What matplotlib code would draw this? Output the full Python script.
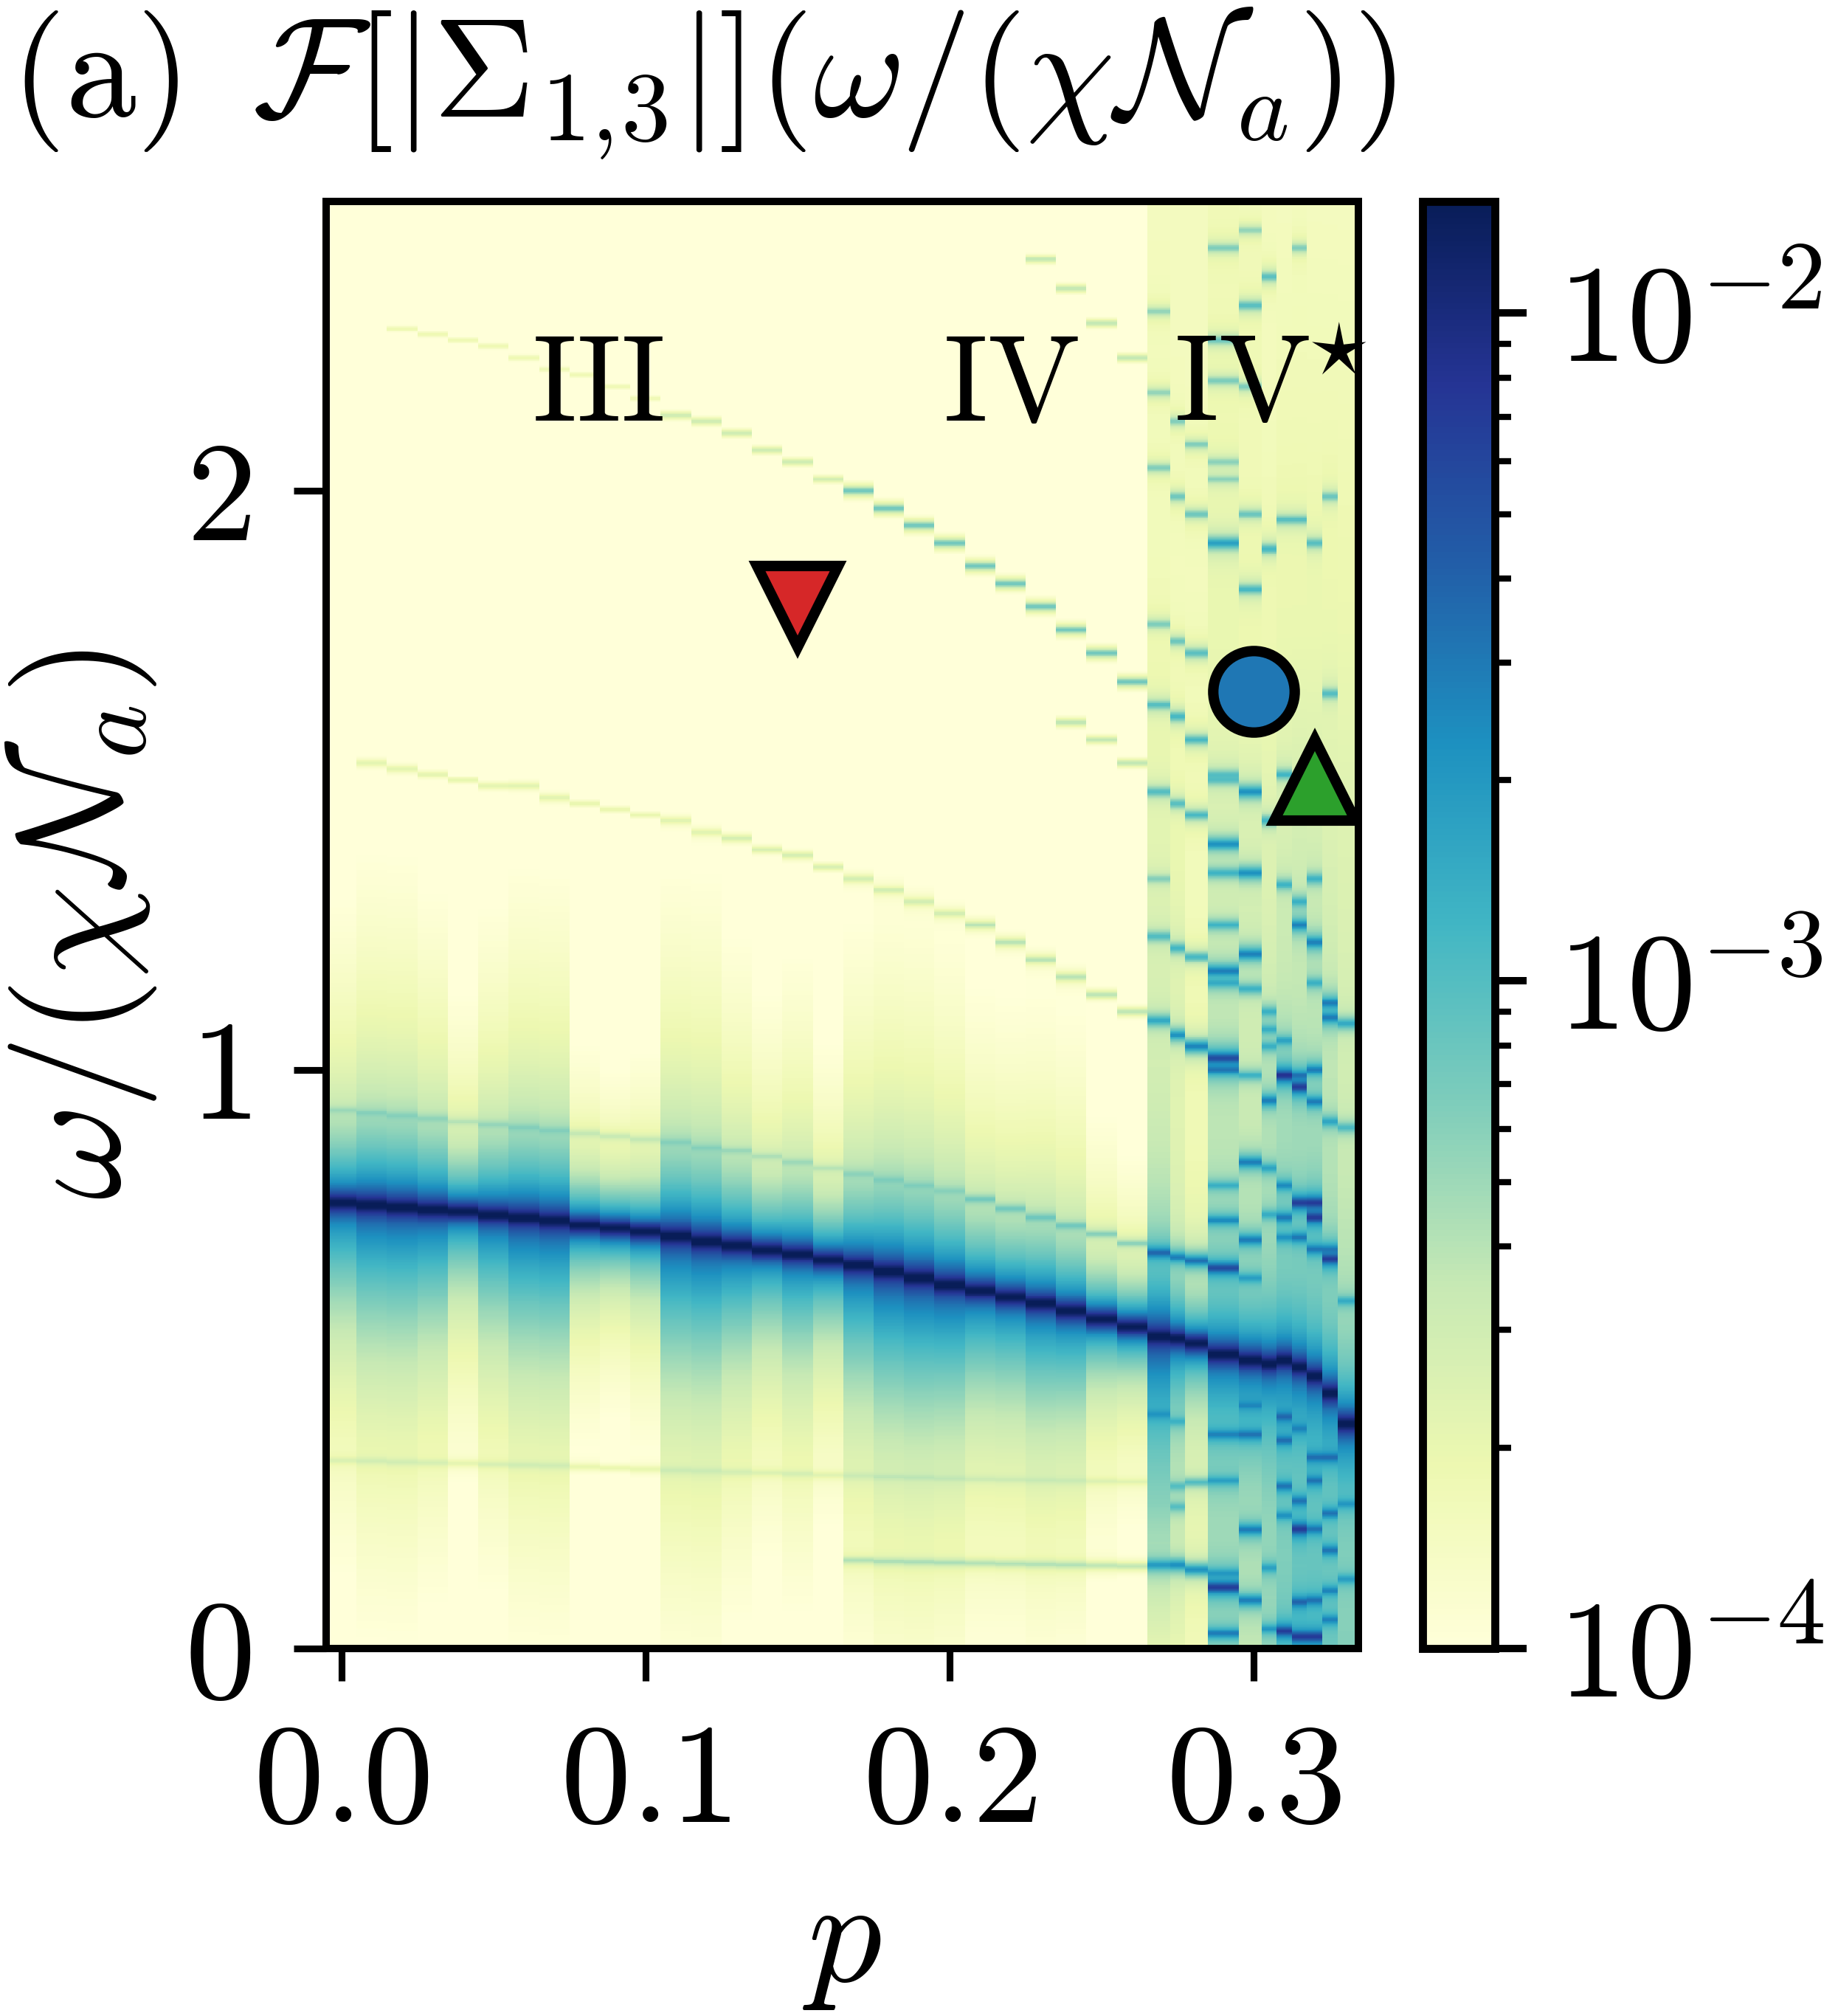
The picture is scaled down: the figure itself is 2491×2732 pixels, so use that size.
import numpy as np
import matplotlib.pyplot as plt
from matplotlib.colors import LogNorm
from matplotlib.ticker import FuncFormatter

plt.rcParams["mathtext.fontset"] = "cm"
plt.rcParams["font.family"] = "serif"
plt.rcParams["font.serif"] = ["cmr10", "DejaVu Serif"]
plt.rcParams["axes.unicode_minus"] = False

# ---- p grid (column edges) ----
p_edges = np.concatenate([np.arange(-0.005, 0.2651, 0.01),
                          [0.2725, 0.2775, 0.285, 0.295, 0.3025, 0.3075,
                           0.3125, 0.3175, 0.3225, 0.3275, 0.3344]])

# main peak position per column (omega / (chi N_a))
peak_omega = [0.770, 0.766, 0.762, 0.758, 0.755, 0.749, 0.744, 0.739, 0.731,
              0.726, 0.720, 0.712, 0.703, 0.696, 0.688, 0.681, 0.671, 0.662,
              0.651, 0.640, 0.628, 0.618, 0.607, 0.596, 0.583, 0.569, 0.556,
              0.539, 0.535, 0.527, 0.508, 0.498, 0.492, 0.498, 0.486, 0.470,
              0.441, 0.388]
# shoulder amplitude around the peak (x1e-3)
shoulder_amp = [1.6, 2.4, 2.4, 2.0, 0.8, 1.7, 2.4, 2.4, 0.5, 0.35, 0.5, 2.4, 2.4,
                1.7, 1.0, 1.4, 0.8, 2.0, 2.7, 2.7, 2.4, 1.5, 1.4, 1.7, 1.4, 0.5,
                0.35, 2.4, 1.0, 0.35, 1.5, 1.5, 1.5, 1.5, 1.5, 1.5, 1.5, 1.5]
# broad tail amplitude (x1e-4), regular columns only
tail_amp = [1.3, 1.6, 1.6, 1.3, 0.7, 1.3, 1.6, 1.6, 0.5, 0.4, 0.5, 1.8, 1.8,
            1.3, 1.0, 1.3, 0.7, 1.6, 1.8, 1.8, 1.6, 1.3, 1.3, 1.3, 1.3, 0.7,
            0.5]

# faint satellite lines in the regular columns: omega per column and log10 level
line_a_omega = [0.93, 0.925, 0.92, 0.915, 0.91, 0.905, 0.90, 0.895, 0.89, 0.885,
                0.88, 0.875, 0.865, 0.86, 0.85, 0.84, 0.83, 0.82, 0.81, 0.80,
                0.79, 0.776, 0.76, 0.745, 0.73, 0.716, 0.70]
line_a_level = [-3.75] * 21 + [-3.4] * 6
line_b_omega = [0.325, 0.324, 0.322, 0.321, 0.32, 0.318, 0.317, 0.316, 0.314,
                0.312, 0.31, 0.308, 0.307, 0.305, 0.304, 0.302, 0.30, 0.299,
                0.297, 0.296, 0.294, 0.293, 0.292, 0.291, 0.29, 0.289, 0.288]
line_b_level = [-3.95] * 27
line_c_omega = [0.152, 0.150, 0.149, 0.148, 0.147, 0.146, 0.145, 0.144, 0.143, 0.142]
line_c_level = [-3.55] * 10
line_d_omega = [2.28, 2.27, 2.26, 2.25, 2.23, 2.21, 2.20, 2.18, 2.16, 2.13, 2.12,
                2.10, 2.07, 2.05, 2.02, 2.00, 1.97, 1.94, 1.91, 1.87, 1.84, 1.80,
                1.76, 1.72, 1.67]
line_d_level = [-3.9] * 9 + [-3.6] * 6 + [-3.15] * 10
line_e_omega = [1.53, 1.52, 1.51, 1.50, 1.49, 1.49, 1.47, 1.46, 1.45, 1.44, 1.43,
                1.41, 1.40, 1.38, 1.37, 1.35, 1.33, 1.31, 1.29, 1.27, 1.25, 1.22,
                1.19, 1.16, 1.13, 1.10]
line_e_level = [-3.85] * 12 + [-3.7] * 8 + [-3.5] * 6
line_f_omega = [2.40, 2.35, 2.29, 2.23]
line_f_level = [-3.5] * 4
line_h_omega = [1.60, 1.57, 1.53]
line_h_level = [-3.5] * 3
lines = [(0, line_a_omega, line_a_level), (0, line_b_omega, line_b_level),
         (17, line_c_omega, line_c_level), (2, line_d_omega, line_d_level),
         (1, line_e_omega, line_e_level), (23, line_f_omega, line_f_level),
         (24, line_h_omega, line_h_level)]

# noisy columns (p > 0.265): background log10 level at omega = 0, 0.25, ..., 2.5
noisy_knots = np.arange(0, 2.51, 0.25)
noisy_bg = [
    [-3.95, -3.45, -3.35, -3.6, -3.7, -3.75, -3.85, -3.95, -4.0, -4.0, -4.0],
    [-3.9, -3.7, -3.75, -3.85, -3.8, -3.8, -3.95, -4.0, -4.0, -4.0, -4.0],
    [-4.0, -3.95, -3.9, -4.0, -4.0, -4.0, -4.0, -4.0, -4.0, -4.0, -4.0],
    [-3.5, -3.55, -3.5, -3.55, -3.6, -3.7, -3.8, -3.85, -3.9, -3.95, -3.95],
    [-3.6, -3.6, -3.55, -3.6, -3.65, -3.7, -3.8, -3.9, -3.95, -3.95, -4.0],
    [-3.4, -3.45, -3.4, -3.5, -3.55, -3.7, -3.8, -3.9, -3.95, -4.0, -4.0],
    [-3.2, -3.4, -3.35, -3.4, -3.5, -3.6, -3.75, -3.85, -3.9, -3.95, -4.0],
    [-3.1, -3.35, -3.3, -3.4, -3.5, -3.6, -3.7, -3.85, -3.9, -3.95, -4.0],
    [-3.1, -3.3, -3.35, -3.4, -3.5, -3.6, -3.7, -3.85, -3.9, -3.95, -4.0],
    [-3.2, -3.4, -3.4, -3.5, -3.55, -3.65, -3.75, -3.85, -3.9, -3.95, -4.0],
    [-3.3, -3.5, -3.5, -3.55, -3.65, -3.7, -3.75, -3.85, -3.9, -3.95, -4.0],
]
# horizontal stripes in the noisy columns: (column index, omega, log10 level)
noisy_stripes = [
    (27, 2.31, -3.4), (27, 2.17, -3.4), (27, 2.04, -3.3), (27, 1.77, -3.3),
    (27, 1.63, -3.1), (27, 1.48, -3.1), (27, 1.33, -3.4), (27, 1.23, -3.1),
    (27, 1.085, -2.9), (27, 0.684, -2.5), (27, 0.404, -3.0), (27, 0.144, -2.8),
    (28, 2.12, -3.3), (28, 1.99, -3.2), (28, 1.74, -3.2), (28, 1.61, -3.0),
    (28, 1.46, -3.1), (28, 1.21, -3.0), (28, 1.06, -2.7), (28, 0.676, -2.6),
    (28, 0.392, -3.1), (28, 0.28, -3.2), (28, 0.245, -3.2), (28, 0.144, -2.7),
    (29, 2.08, -3.3), (29, 1.96, -3.2), (29, 1.72, -3.1), (29, 1.57, -3.0),
    (29, 1.44, -3.0), (29, 1.195, -3.0), (29, 1.04, -2.6), (29, 0.67, -2.5),
    (29, 0.287, -3.1), (29, 0.136, -2.7),
    (30, 2.42, -3.3), (30, 2.26, -3.2), (30, 2.19, -3.3), (30, 2.05, -3.4),
    (30, 2.02, -3.4), (30, 1.91, -2.8), (30, 1.51, -3.2), (30, 1.50, -3.2),
    (30, 1.39, -2.7), (30, 1.34, -3.0), (30, 1.25, -3.0), (30, 1.17, -2.6),
    (30, 1.15, -3.0), (30, 1.02, -2.3), (30, 1.00, -2.6), (30, 0.80, -3.0),
    (30, 0.74, -2.7), (30, 0.657, -2.3), (30, 0.37, -2.7), (30, 0.29, -2.9),
    (30, 0.13, -2.9), (30, 0.106, -2.2), (30, 0.026, -2.6),
    (31, 2.45, -3.4), (31, 2.32, -3.1), (31, 2.18, -3.3), (31, 1.96, -3.2),
    (31, 1.83, -3.0), (31, 1.48, -2.7), (31, 1.34, -2.7), (31, 1.20, -2.6),
    (31, 1.14, -3.0), (31, 0.99, -3.0), (31, 0.84, -2.6), (31, 0.706, -2.6),
    (31, 0.64, -2.9), (31, 0.42, -2.9), (31, 0.37, -2.6), (31, 0.205, -2.6),
    (31, 0.083, -2.6),
    (32, 2.37, -3.1), (32, 1.90, -3.0), (32, 1.43, -3.0), (32, 1.10, -3.0),
    (32, 1.07, -3.0), (32, 1.04, -3.0), (32, 0.947, -2.6), (32, 0.83, -2.9),
    (32, 0.75, -3.0), (32, 0.139, -2.9), (32, 0.034, -2.8),
    (33, 1.95, -3.1), (33, 1.51, -3.0), (33, 1.32, -3.0), (33, 1.05, -2.9),
    (33, 0.99, -2.1), (33, 0.80, -2.7), (33, 0.745, -2.6), (33, 0.71, -2.8),
    (33, 0.40, -2.6), (33, 0.36, -2.6), (33, 0.28, -2.6), (33, 0.23, -2.8),
    (33, 0.03, -2.2),
    (34, 2.42, -3.3), (34, 1.95, -3.1), (34, 1.47, -3.0), (34, 1.29, -3.0),
    (34, 1.25, -2.6), (34, 0.99, -2.6), (34, 0.97, -2.2), (34, 0.77, -2.2),
    (34, 0.71, -2.6), (34, 0.38, -2.8), (34, 0.255, -2.6), (34, 0.206, -2.2),
    (34, 0.08, -2.5), (34, 0.02, -2.2),
    (35, 1.91, -3.1), (35, 1.33, -3.0), (35, 1.22, -2.6), (35, 1.15, -3.0),
    (35, 1.00, -2.6), (35, 0.945, -2.6), (35, 0.77, -2.2), (35, 0.745, -2.2),
    (35, 0.69, -2.6), (35, 0.33, -2.6), (35, 0.29, -2.6), (35, 0.206, -2.6),
    (35, 0.083, -2.6), (35, 0.02, -2.2),
    (36, 1.99, -3.2), (36, 1.65, -3.1), (36, 1.115, -2.6), (36, 1.09, -2.6),
    (36, 0.91, -2.9), (36, 0.69, -2.7), (36, 0.673, -2.2), (36, 0.33, -2.6),
    (36, 0.234, -2.6), (36, 0.17, -2.6), (36, 0.10, -2.7), (36, 0.05, -2.7),
    (37, 1.08, -2.9), (37, 0.90, -3.1), (37, 0.60, -3.0), (37, 0.25, -2.9),
    (37, 0.12, -2.9),
]

# markers and region labels
marker_p = [0.15, 0.30, 0.32]
marker_omega = [1.80, 1.653, 1.50]
marker_shape = ["v", "o", "^"]
marker_color = ["tab:red", "tab:blue", "tab:green"]
region_text = [r"$\mathrm{III}$", r"$\mathrm{IV}$",
               r"$\mathrm{IV}^{\hspace{-0.3}\star}$"]
region_p = [0.0843, 0.220, 0.2738]
region_ha = ["center", "center", "left"]
region_omega = 2.122

# ---- assemble the spectrum map ----
omega_edges = np.linspace(0.0, 2.5, 1001)
omega = 0.5 * (omega_edges[1:] + omega_edges[:-1])
n_cols = len(p_edges) - 1
n_reg = len(tail_amp)
Z = np.full((omega.size, n_cols), 5e-5)


def lorentz(w0, amp, width):
    return amp / (1.0 + ((omega - w0) / width) ** 2)


for j in range(n_cols):
    dw = omega - peak_omega[j]
    up = dw > 0
    col = lorentz(peak_omega[j], 1.4e-2, 0.01)
    col += shoulder_amp[j] * 1e-3 / (1 + (dw / np.where(up, 0.05, 0.08)) ** 2)
    if j < n_reg:
        col += tail_amp[j] * 1e-4 / (1 + (dw / 0.3) ** 2)
    else:
        col += 10 ** np.interp(omega, noisy_knots, noisy_bg[j - n_reg])
    Z[:, j] += col

for start, om, lev in lines:
    for k, (w0, lv) in enumerate(zip(om, lev)):
        Z[:, start + k] += lorentz(w0, 10 ** lv, 0.005)

for j, w0, lv in noisy_stripes:
    Z[:, j] += lorentz(w0, 10 ** lv, 0.006)

# ---- figure ----
fig = plt.figure(figsize=(2491 / 300, 2732 / 300), dpi=300)
ax = fig.add_axes([0.17744, 0.18228, 0.56162, 0.71779])
cax = fig.add_axes([0.77399, 0.18228, 0.03934, 0.71779])

norm = LogNorm(vmin=1e-4, vmax=1.47e-2)
mesh = ax.pcolormesh(p_edges, omega_edges, Z, cmap="YlGnBu", norm=norm,
                     shading="flat", rasterized=True)
ax.set_xlim(p_edges[0], p_edges[-1])
ax.set_ylim(0, 2.5)

for p, w, m, c in zip(marker_p, marker_omega, marker_shape, marker_color):
    ax.plot(p, w, marker=m, ms=26.5, mfc=c, mec="black", mew=3.4, ls="none")

for t, p, ha in zip(region_text, region_p, region_ha):
    ax.text(p, region_omega, t, fontsize=40, ha=ha, va="baseline")

ax.set_xticks([0.0, 0.1, 0.2, 0.3])
ax.set_yticks([0, 1, 2])
ax.xaxis.set_major_formatter(FuncFormatter(lambda v, _: rf"${v:.1f}$"))
ax.yaxis.set_major_formatter(FuncFormatter(lambda v, _: rf"${v:.0f}$"))
ax.tick_params(which="major", length=10.5, width=2.2, labelsize=46, pad=14)
for s in ax.spines.values():
    s.set_linewidth(2.4)

ax.set_xlabel(r"$p$", fontsize=48)
ax.set_ylabel(r"$\omega/(\chi\mathcal{N}_a)$", fontsize=48)
ax.xaxis.set_label_coords(0.5, -0.160)
ax.yaxis.set_label_coords(-0.162, 0.5)

cb = fig.colorbar(mesh, cax=cax)
cb.outline.set_linewidth(2.6)
cb.set_ticks([1e-4, 1e-3, 1e-2])
cb.ax.yaxis.set_major_formatter(
    FuncFormatter(lambda v, _: rf"$10^{{{int(round(np.log10(v)))}}}$"))
cax.tick_params(which="major", length=10.3, width=2.4, labelsize=45, pad=10)
cax.tick_params(which="minor", length=5.3, width=2.0)

fig.text(0.0055, 0.9425,
         r"$\mathrm{(a)}\ \,\mathcal{F}[|\Sigma_{1,\!3}|](\omega/(\chi\mathcal{N}_a))$",
         fontsize=46, ha="left", va="baseline")

fig.savefig("out.png", dpi=300)
